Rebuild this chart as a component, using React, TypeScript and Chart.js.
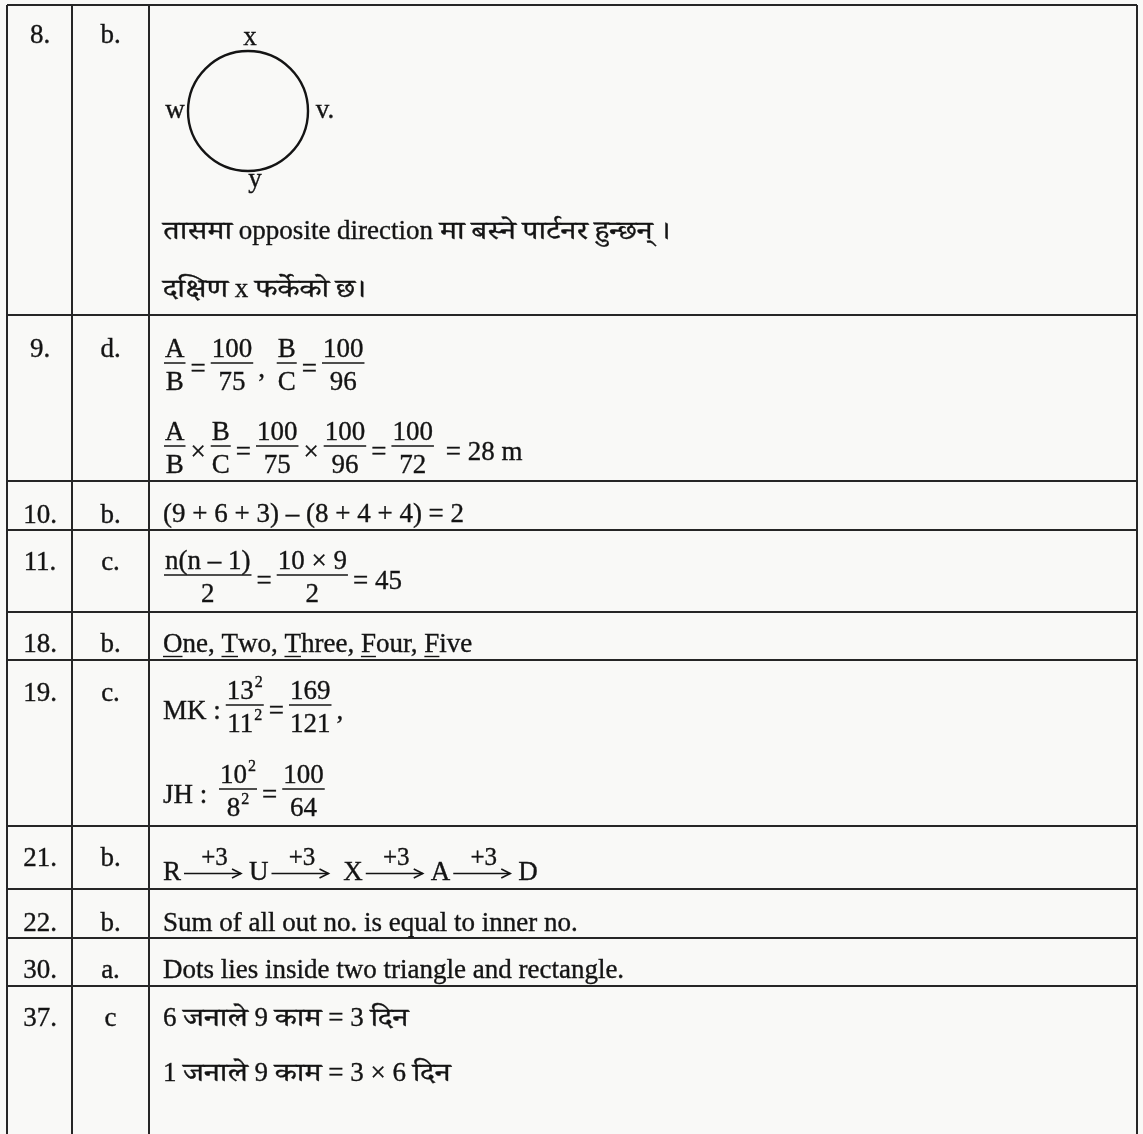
import React, { useEffect, useRef } from 'react';
import { Chart, registerables } from 'chart.js';

Chart.register(...registerables);

// ---------- content ----------
const QUESTION_NUMBERS = ['8.', '9.', '10.', '11.', '18.', '19.', '21.', '22.', '30.', '37.'];
const ANSWER_KEYS = ['b.', 'd.', 'b.', 'c.', 'b.', 'c.', 'b.', 'b.', 'a.', 'c'];
const DIAGRAM_LABELS = ['x', 'w', 'v.', 'y'];

type Tok = string | { f: [string, string] } | { arrow: string } | { u: string };

const ROW8_LINES: Tok[][] = [
  ['तासमा opposite direction मा बस्ने पार्टनर हुन्छन् ।'],
  ['दक्षिण x फर्केको छ।'],
];
const ROW9_LINES: Tok[][] = [
  [{ f: ['A', 'B'] }, '=', { f: ['100', '75'] }, ', ', { f: ['B', 'C'] }, '=', { f: ['100', '96'] }],
  [
    { f: ['A', 'B'] }, '×', { f: ['B', 'C'] }, '=', { f: ['100', '75'] }, '×', { f: ['100', '96'] },
    '=', { f: ['100', '72'] }, ' = 28 m',
  ],
];
const ROW10_LINES: Tok[][] = [['(9 + 6 + 3) – (8 + 4 + 4) = 2']];
const ROW11_LINES: Tok[][] = [[{ f: ['n(n – 1)', '2'] }, '=', { f: ['10 × 9', '2'] }, '= 45']];
const ROW18_LINES: Tok[][] = [
  [{ u: 'O' }, 'ne, ', { u: 'T' }, 'wo, ', { u: 'T' }, 'hree, ', { u: 'F' }, 'our, ', { u: 'F' }, 'ive'],
];
const ROW19_LINES: Tok[][] = [
  ['MK :', { f: ['13^2', '11^2'] }, '=', { f: ['169', '121'] }, ','],
  ['JH : ', { f: ['10^2', '8^2'] }, '=', { f: ['100', '64'] }],
];
const ROW21_LINES: Tok[][] = [
  ['R', { arrow: '+3' }, 'U', { arrow: '+3' }, ' X', { arrow: '+3' }, 'A', { arrow: '+3' }, 'D'],
];
const ROW22_LINES: Tok[][] = [['Sum of all out no. is equal to inner no.']];
const ROW30_LINES: Tok[][] = [['Dots lies inside two triangle and rectangle.']];
const ROW37_LINES: Tok[][] = [['6 जनाले 9 काम = 3 दिन'], ['1 जनाले 9 काम = 3 × 6 दिन']];

const EXPLANATIONS: Tok[][][] = [
  ROW8_LINES, ROW9_LINES, ROW10_LINES, ROW11_LINES, ROW18_LINES,
  ROW19_LINES, ROW21_LINES, ROW22_LINES, ROW30_LINES, ROW37_LINES,
];

// ---------- layout (table units = scale values) ----------
const COL_EDGES = [7, 72, 149, 1137];
const ROW_EDGES = [5, 315, 481, 530, 612, 660, 826, 889, 938, 986];
const TABLE_BOTTOM = 1134;
const NUM_CENTER = 40;
const KEY_CENTER = 110.5;
const EXPL_X = 163;
const KEY_BASELINES = [43, 357, 523, 570, 652, 701, 866, 931, 978, 1026];
const LINE_BASELINES = [[239, 297], [377, 460], [522], [589], [652], [719, 803], [880], [931], [978], [1026, 1081]];
const CIRCLE_CENTER = { x: 248, y: 111 };
const CIRCLE_RADIUS = 60;
const DIAGRAM_LABEL_POS = [[250, 45], [175, 118], [325, 118], [255, 187]];

// ---------- style ----------
const PAPER = '#f9f9f7';
const INK = '#141414';
const RULE = '#262626';
const FAMILY = '"Liberation Serif", "Times New Roman", "Noto Serif Devanagari", "Noto Sans Devanagari", "Lohit Devanagari", serif';
const BASE_PX = 27;
const SUP_PX = 16;
const LABEL_PX = 25;
const DEVA_PX = 26;
const DEVA_SX = 1.19;
const INK_STROKE = 0.35;
const FRAC_PAD = 6;
const ARROW_W = 68;
const font = (px: number) => `${px}px ${FAMILY}`;
const DEVA_RE = /[\u0900-\u097F\u200C\u200D]/;

function runs(s: string): { t: string; deva: boolean }[] {
  const out: { t: string; deva: boolean }[] = [];
  for (const ch of s) {
    const d = DEVA_RE.test(ch);
    const last = out[out.length - 1];
    if (last && last.deva === d) last.t += ch;
    else out.push({ t: ch, deva: d });
  }
  return out;
}

function plainWidth(ctx: CanvasRenderingContext2D, s: string, px: number) {
  let w = 0;
  for (const r of runs(s)) {
    if (r.deva) {
      ctx.font = font(DEVA_PX);
      w += ctx.measureText(r.t).width * DEVA_SX;
    } else {
      ctx.font = font(px);
      w += ctx.measureText(r.t).width;
    }
  }
  return w;
}

function drawPlain(ctx: CanvasRenderingContext2D, s: string, x: number, y: number, px: number) {
  let cx = x;
  ctx.lineWidth = INK_STROKE;
  for (const r of runs(s)) {
    if (r.deva) {
      ctx.font = font(DEVA_PX);
      const w = ctx.measureText(r.t).width;
      ctx.save();
      ctx.translate(cx, y);
      ctx.scale(DEVA_SX, 1);
      ctx.fillText(r.t, 0, 0);
      ctx.strokeText(r.t, 0, 0);
      ctx.restore();
      cx += w * DEVA_SX;
    } else {
      ctx.font = font(px);
      ctx.fillText(r.t, cx, y);
      ctx.strokeText(r.t, cx, y);
      cx += ctx.measureText(r.t).width;
    }
  }
}

function richWidth(ctx: CanvasRenderingContext2D, s: string) {
  const [base, sup] = s.split('^');
  let w = plainWidth(ctx, base, BASE_PX);
  if (sup) w += plainWidth(ctx, sup, SUP_PX) + 1;
  return w;
}

function drawRich(ctx: CanvasRenderingContext2D, s: string, x: number, y: number) {
  const [base, sup] = s.split('^');
  drawPlain(ctx, base, x, y, BASE_PX);
  if (sup) {
    const bw = plainWidth(ctx, base, BASE_PX);
    drawPlain(ctx, sup, x + bw + 1, y - 12, SUP_PX);
  }
}

function drawCentered(ctx: CanvasRenderingContext2D, s: string, cx: number, y: number) {
  drawPlain(ctx, s, cx - plainWidth(ctx, s, BASE_PX) / 2, y, BASE_PX);
}

function tokWidth(ctx: CanvasRenderingContext2D, t: Tok) {
  if (typeof t === 'string') return richWidth(ctx, t);
  if ('f' in t) return Math.max(richWidth(ctx, t.f[0]), richWidth(ctx, t.f[1])) + 2 * FRAC_PAD;
  if ('arrow' in t) return ARROW_W;
  return richWidth(ctx, t.u);
}

function hline(ctx: CanvasRenderingContext2D, x1: number, x2: number, y: number, lw: number) {
  ctx.lineWidth = lw;
  ctx.beginPath();
  ctx.moveTo(x1, y);
  ctx.lineTo(x2, y);
  ctx.stroke();
}

function drawLine(ctx: CanvasRenderingContext2D, toks: Tok[], x0: number, base: number) {
  let x = x0;
  const first = toks[0];
  if (typeof first === 'object' && 'f' in first) x -= 4;
  for (const t of toks) {
    const w = tokWidth(ctx, t);
    if (typeof t === 'string') {
      drawRich(ctx, t, x, base);
    } else if ('f' in t) {
      const wn = richWidth(ctx, t.f[0]);
      const wd = richWidth(ctx, t.f[1]);
      const inner = Math.max(wn, wd);
      const bx = x + FRAC_PAD;
      hline(ctx, bx - 1, bx + inner + 1, base - 14, 1.5);
      drawRich(ctx, t.f[0], bx + (inner - wn) / 2, base - 20);
      drawRich(ctx, t.f[1], bx + (inner - wd) / 2, base + 13);
    } else if ('arrow' in t) {
      const y = base - 6.5;
      const x1 = x + 3;
      const x2 = x + 60;
      hline(ctx, x1, x2, y, 1.4);
      ctx.lineWidth = 1.6;
      ctx.beginPath();
      ctx.moveTo(x2 - 9, y - 4.5);
      ctx.lineTo(x2, y);
      ctx.lineTo(x2 - 9, y + 4.5);
      ctx.stroke();
      const lw = plainWidth(ctx, t.arrow, LABEL_PX);
      drawPlain(ctx, t.arrow, (x1 + x2) / 2 + 2 - lw / 2, base - 15, LABEL_PX);
    } else {
      drawRich(ctx, t.u, x, base);
      hline(ctx, x, x + w, base + 4.5, 1.4);
    }
    x += w;
  }
}

const tablePlugin = {
  id: 'tableText',
  beforeDraw(chart: any) {
    const { ctx, width, height } = chart;
    ctx.save();
    ctx.fillStyle = PAPER;
    ctx.fillRect(0, 0, width, height);
    ctx.restore();
  },
  afterDraw(chart: any) {
    const ctx: CanvasRenderingContext2D = chart.ctx;
    const xs = chart.scales.x;
    const ys = chart.scales.y;
    const X = (v: number) => xs.getPixelForValue(v);
    const Y = (v: number) => ys.getPixelForValue(v);
    ctx.save();
    ctx.fillStyle = INK;
    ctx.strokeStyle = INK;
    ctx.textBaseline = 'alphabetic';
    ctx.textAlign = 'left';
    QUESTION_NUMBERS.forEach((q, i) => drawCentered(ctx, q, X(NUM_CENTER), Y(KEY_BASELINES[i])));
    ANSWER_KEYS.forEach((a, i) => drawCentered(ctx, a, X(KEY_CENTER), Y(KEY_BASELINES[i])));
    DIAGRAM_LABELS.forEach((l, i) =>
      drawCentered(ctx, l, X(DIAGRAM_LABEL_POS[i][0]), Y(DIAGRAM_LABEL_POS[i][1]))
    );
    EXPLANATIONS.forEach((lines, r) =>
      lines.forEach((toks, k) => drawLine(ctx, toks, X(EXPL_X), Y(LINE_BASELINES[r][k])))
    );
    ctx.restore();
  },
};

export default function App() {
  const ref = useRef<HTMLCanvasElement>(null);
  useEffect(() => {
    if (!ref.current) return;
    const chart = new Chart(ref.current, {
      type: 'scatter',
      data: {
        datasets: [
          {
            data: [{ x: CIRCLE_CENTER.x, y: CIRCLE_CENTER.y }],
            pointRadius: CIRCLE_RADIUS,
            pointHoverRadius: CIRCLE_RADIUS,
            pointStyle: 'circle',
            pointBackgroundColor: 'rgba(0,0,0,0)',
            pointBorderColor: INK,
            pointBorderWidth: 2.4,
            pointHoverBorderWidth: 2.4,
          },
        ],
      },
      options: {
        animation: false,
        responsive: false,
        devicePixelRatio: 1,
        events: [],
        layout: {
          autoPadding: false,
          padding: { left: COL_EDGES[0], right: 1143 - COL_EDGES[3], top: ROW_EDGES[0], bottom: 0 },
        },
        plugins: { legend: { display: false }, tooltip: { enabled: false } },
        scales: {
          x: {
            type: 'linear',
            min: COL_EDGES[0],
            max: COL_EDGES[COL_EDGES.length - 1],
            afterBuildTicks: (s: any) => {
              s.ticks = COL_EDGES.map((v) => ({ value: v }));
            },
            ticks: { display: false, autoSkip: false },
            grid: { color: RULE, lineWidth: 2, drawTicks: false },
            border: { display: false },
          },
          y: {
            type: 'linear',
            reverse: true,
            min: ROW_EDGES[0],
            max: TABLE_BOTTOM,
            afterBuildTicks: (s: any) => {
              s.ticks = ROW_EDGES.map((v) => ({ value: v }));
            },
            ticks: { display: false, autoSkip: false },
            grid: { color: RULE, lineWidth: 2, drawTicks: false },
            border: { display: false },
          },
        },
      },
      plugins: [tablePlugin],
    } as any);
    let alive = true;
    (document as any).fonts?.ready?.then(() => {
      if (alive) chart.update();
    });
    return () => {
      alive = false;
      chart.destroy();
    };
  }, []);
  return (
    <div style={{ position: 'absolute', left: 0, top: 0, width: 1143, height: 1134, background: PAPER }}>
      <canvas ref={ref} width={1143} height={1134} style={{ display: 'block' }} />
    </div>
  );
}
